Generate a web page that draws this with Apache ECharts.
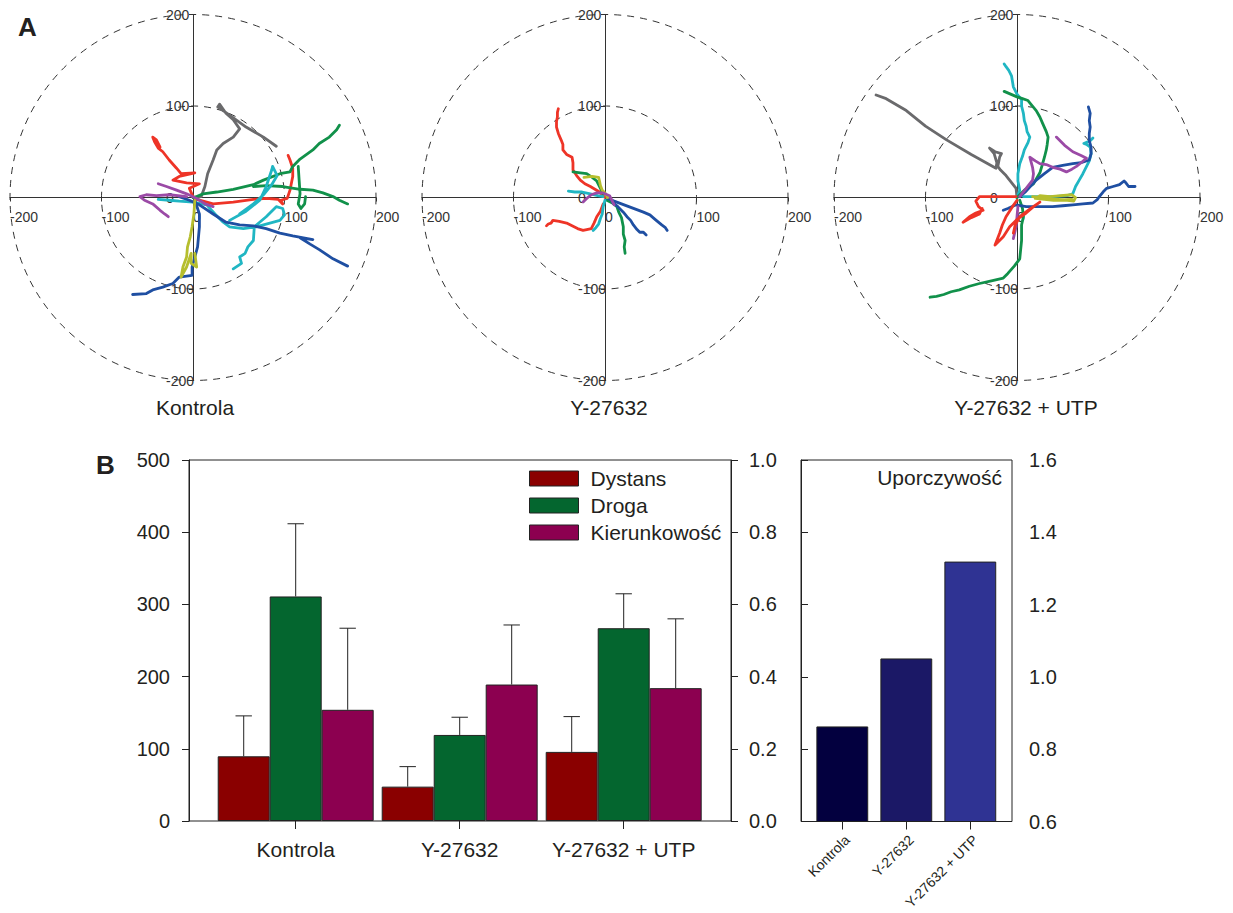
<!DOCTYPE html>
<html>
<head>
<meta charset="utf-8">
<script src="https://cdn.jsdelivr.net/npm/echarts@6/dist/echarts.min.js"></script>
<style>html,body{margin:0;padding:0;background:#fff}#c{width:1233px;height:913px}</style>
</head>
<body>
<div id="c"></div>
<script>
// ---------------- DATA ----------------
const groups = ['Kontrola', 'Y-27632', 'Y-27632 + UTP'];
const panelTitles = ['Kontrola', 'Y-27632', 'Y-27632 + UTP'];
const seriesNames = ['Dystans', 'Droga', 'Kierunkowość'];
const dystans = [89.6, 47.6, 95.7];
const dystansErr = [145.6, 75.3, 144.6];
const droga = [311, 119.2, 267];
const drogaErr = [411.7, 143.7, 314.7];
const kier = [0.308, 0.378, 0.368];
const kierErr = [0.534, 0.543, 0.56];
const persistence = [0.863, 1.051, 1.319];
const persistenceLabel = 'Uporczywość';

// trajectories (µm), panel A
const k_gray = [[0,0],[9,1],[13,12],[16,26],[22,41],[26,52],[33,59],[44,66],[51,75],[44,85],[36,92],[29,102],[27,99],[40,90],[58,77],[77,66],[91,56]];
const k_redA = [[0,1],[-4,10],[7,15],[-7,16],[-22,19],[-15,23],[2,27],[-13,26],[-18,32],[-26,41],[-33,50],[-38,54],[-42,61],[-44,66],[-40,63],[-36,55]];
const k_redB = [[4,-2],[22,-7],[44,-5],[66,-2],[80,-1],[93,-2],[98,-7],[96,-3],[103,-1],[106,8],[109,23],[109,32],[106,41],[104,46]];
const k_greenA = [[0,0],[4,1],[11,4],[26,6],[44,9],[66,14],[77,19],[95,26],[106,28],[109,34],[117,42],[131,52],[138,59],[149,66],[157,74],[160,79]];
const k_greenB = [[66,12],[80,13],[98,12],[117,9],[131,8],[142,5],[153,1],[160,-3],[169,-7]];
const k_greenC = [[115,34],[116,19],[117,4],[115,-7],[118,-12],[122,-7],[123,1]];
const k_cyanA = [[-38,-2],[-26,-3],[-15,-4],[0,-5],[15,-8],[24,-18],[33,-27],[40,-32],[55,-34],[69,-32],[84,-28],[95,-25],[100,-19],[98,-12],[91,-10],[80,-21],[67,-32],[66,-47],[60,-54],[57,-61],[51,-65],[53,-72],[44,-78]];
const k_cyanB = [[40,-25],[58,-15],[73,-3],[80,12],[86,30],[87,34],[92,24],[86,14],[77,3],[66,-7],[51,-18]];
const k_blueA = [[-15,1],[-4,-3],[7,-8],[22,-18],[36,-27],[51,-30],[66,-31],[80,-34],[95,-39],[109,-42],[131,-46],[117,-44],[128,-51],[138,-57],[153,-67],[169,-75]];
const k_blueB = [[2,-3],[7,-18],[7,-32],[5,-54],[2,-65],[-1,-76],[-1,-85],[-15,-87],[-22,-94],[-33,-98],[-44,-101],[-51,-105],[-66,-106]];
const k_olive = [[2,-3],[1,-18],[-1,-32],[-3,-43],[-6,-54],[-7,-65],[-11,-76],[-13,-87],[-7,-76],[-2,-61],[-2,-72],[4,-76],[2,-61]];
const k_purpleA = [[22,-10],[13,-7],[4,-1],[-7,4],[-18,8],[-29,12],[-38,15]];
const k_purpleB = [[-7,1],[-26,3],[-40,2],[-51,3],[-58,1],[-53,-3],[-44,-7],[-36,-14],[-31,-18],[-27,-21]];

const y_redA = [[0,0],[-6,6],[-16,12],[-22,15],[-27,19],[-31,24],[-35,30],[-35,38],[-36,44],[-42,47],[-46,52],[-46,58],[-48,63],[-51,70],[-53,77],[-53,83],[-52,88],[-52,93],[-51,97]];
const y_redB = [[-2,-7],[-5,-15],[-9,-21],[-12,-28],[-15,-34],[-20,-35],[-24,-36],[-30,-34],[-36,-31],[-42,-28],[-50,-26],[-57,-25],[-59,-28],[-62,-29],[-64,-31]];
const y_greenA = [[2,-3],[8,-6],[13,-10],[15,-16],[18,-22],[20,-32],[20,-40],[22,-47],[21,-54],[22,-61]];
const y_greenB = [[-2,4],[-5,10],[-9,18],[-14,22],[-20,26],[-27,27],[-35,28]];
const y_blueA = [[3,-1],[10,-4],[18,-7],[26,-10],[34,-13],[42,-16],[49,-19],[56,-25],[62,-30],[66,-33],[68,-36]];
const y_blueB = [[8,-5],[14,-10],[20,-16],[24,-21],[28,-25],[31,-30],[35,-35],[38,-38],[42,-38],[45,-41]];
const y_olive = [[3,0],[0,5],[-3,8],[-5,13],[-6,18],[-7,22],[-14,23],[-23,22]];
const y_cyanA = [[-2,1],[-8,2],[-16,4],[-25,6],[-33,6],[-40,7]];
const y_cyanB = [[0,-3],[-2,-10],[-3,-18],[-5,-23],[-7,-29],[-10,-33],[-13,-36]];
const y_purple = [[10,-8],[8,-4],[5,2],[-2,5],[-9,5],[-15,3],[-20,-1],[-24,-5]];

const u_gray = [[0,0],[-1,10],[-12,24],[-18,30],[-21,34],[-19,44],[-17,48],[-24,50],[-30,54],[-25,48],[-22,38],[-23,32],[-50,47],[-77,63],[-100,78],[-121,95],[-143,108],[-154,112]];
const u_cyanA = [[0,0],[3,8],[1,18],[1,26],[3,37],[6,45],[8,52],[12,60],[14,66],[11,72],[10,78],[8,84],[7,92],[5,100],[5,107],[0,113],[-4,121],[-5,127],[-6,133],[-9,139],[-12,143],[-14,146]];
const u_cyanB = [[7,1],[20,1],[39,1],[55,2],[61,4],[64,12],[68,19],[72,26],[76,34],[79,40],[81,48],[80,55],[76,58],[73,59],[80,62],[83,65]];
const u_greenA = [[0,0],[8,8],[18,15],[22,22],[25,27],[28,37],[30,44],[32,52],[33,58],[34,66],[32,72],[28,81],[25,88],[21,95],[16,101],[12,106],[6,108],[0,110],[-7,113],[-14,116]];
const u_greenB = [[3,-3],[6,-12],[7,-21],[5,-30],[5,-40],[5,-47],[4,-57],[3,-67],[-3,-75],[-10,-83],[-15,-88],[-28,-91],[-41,-94],[-52,-97],[-63,-101],[-72,-103],[-80,-106],[-88,-108],[-95,-109]];
const u_blueA = [[-15,-14],[-10,-12],[-1,-8],[10,-10],[21,-10],[30,-10],[39,-10],[50,-9],[61,-8],[72,-7],[83,-6],[88,-2],[90,1],[94,6],[98,10],[105,12],[112,14],[117,18],[119,16],[122,12],[129,12]];
const u_blueB = [[3,1],[10,7],[21,19],[30,26],[39,33],[50,35],[61,37],[70,38],[79,41],[81,48],[81,55],[79,62],[79,70],[80,77],[79,84],[80,92],[78,99]];
const u_purpleA = [[3,1],[10,10],[17,19],[18,26],[17,33],[14,44],[20,40],[25,37],[32,36],[39,33],[47,31],[54,28],[60,31],[65,34],[70,38],[76,43],[70,46],[61,50],[52,57],[43,66]];
const u_purpleB = [[1,-10],[0,-21],[-1,-32],[-4,-45]];
const u_olive = [[17,1],[25,0],[35,-1],[45,-2],[55,-3],[62,-4],[64,0],[60,3],[48,2],[36,1],[25,2],[20,-1],[40,-3],[60,-2]];
const u_redA = [[-1,1],[-12,1],[-25,1],[-41,1],[-45,-4],[-42,-10],[-37,-14],[-45,-17],[-52,-21],[-59,-27],[-50,-22],[-41,-18],[-38,-12]];
const u_redB = [[0,-3],[-5,-10],[-12,-21],[-16,-30],[-19,-39],[-24,-52],[-15,-43],[-8,-32],[0,-24],[10,-17],[18,-10],[25,-5],[15,-12],[3,-21],[-2,-30],[-4,-39]];

// ---------------- STYLE / LAYOUT ----------------
const C = {
  red: '#ee3427', green: '#11914a', gray: '#6a6a6c', cyan: '#20b6c3',
  blue: '#1f4fa2', olive: '#b6be2e', purple: '#9b4aa6'
};
const panels = [
  [[k_gray,'gray'],[k_redA,'red'],[k_redB,'red'],[k_greenA,'green'],[k_greenB,'green'],[k_greenC,'green'],[k_cyanA,'cyan'],[k_cyanB,'cyan'],[k_blueA,'blue'],[k_blueB,'blue'],[k_olive,'olive'],[k_purpleA,'purple'],[k_purpleB,'purple']],
  [[y_redA,'red'],[y_redB,'red'],[y_greenA,'green'],[y_greenB,'green'],[y_blueA,'blue'],[y_blueB,'blue'],[y_olive,'olive'],[y_cyanA,'cyan'],[y_cyanB,'cyan'],[y_purple,'purple']],
  [[u_gray,'gray'],[u_cyanA,'cyan'],[u_cyanB,'cyan'],[u_greenA,'green'],[u_greenB,'green'],[u_blueA,'blue'],[u_blueB,'blue'],[u_purpleA,'purple'],[u_purpleB,'purple'],[u_olive,'olive'],[u_redA,'red'],[u_redB,'red']]
];
const barColors = ['#8a0000', '#04662f', '#8c0050'];
const persColors = ['#03003f', '#1b1866', '#2f3393'];
const FONT = 'Liberation Sans, Arial, Helvetica, sans-serif';
const INK = '#231f20';

const panelLeft = [10, 422, 834];
const panelTop = 14.5;
const panelSize = 366;
const titleX = [195, 609, 1026];

const grid = [], xAxis = [], yAxis = [], polar = [], radiusAxis = [], angleAxis = [], series = [], title = [];

panelLeft.forEach((L, p) => {
  grid.push({left: L, top: panelTop, width: panelSize, height: panelSize, outerBoundsMode: 'none', containLabel: false});
  const axCommon = {
    type: 'value', gridIndex: p, min: -200, max: 200, interval: 100,
    offset: -panelSize / 2,
    splitLine: {show: false},
    axisLine: {onZero: false, lineStyle: {color: '#333', width: 1}},
    axisTick: {show: true, length: 4, lineStyle: {color: '#333'}}
  };
  xAxis.push(Object.assign({}, axCommon, {
    position: 'bottom',
    axisLabel: {fontSize: 14, color: '#333', fontFamily: FONT, align: 'left', margin: 12}
  }));
  yAxis.push(Object.assign({}, axCommon, {
    position: 'left',
    axisLabel: {fontSize: 14, color: '#333', fontFamily: FONT, align: 'left', margin: 27}
  }));
  polar.push({center: [L + panelSize / 2, panelTop + panelSize / 2], radius: panelSize / 2});
  radiusAxis.push({
    polarIndex: p, type: 'value', min: 0, max: 200, interval: 100,
    axisLine: {show: false}, axisTick: {show: false}, axisLabel: {show: false},
    splitLine: {show: true, lineStyle: {color: '#333', width: 1, type: [7, 6]}}
  });
  angleAxis.push({
    polarIndex: p, type: 'value', min: 0, max: 360,
    axisLine: {show: false}, axisTick: {show: false}, axisLabel: {show: false},
    splitLine: {show: false}
  });
  panels[p].forEach(([tr, col]) => {
    series.push({
      type: 'line', xAxisIndex: p, yAxisIndex: p, data: tr,
      showSymbol: false, symbol: 'none', silent: true, clip: false, z: 3,
      lineStyle: {color: C[col], width: 2.8, join: 'round', cap: 'round'}
    });
  });
  title.push({
    text: panelTitles[p], left: titleX[p], top: 397, textAlign: 'center', padding: 0,
    textStyle: {fontSize: 21, fontWeight: 'normal', color: INK, fontFamily: FONT}
  });
});

// ---------- Panel B main chart ----------
const gb = {outerBoundsMode: 'none', containLabel: false};
grid.push(Object.assign({left: 189, top: 460, width: 542, height: 361, show: true, borderColor: '#222', borderWidth: 1, backgroundColor: 'transparent'}, gb));
grid.push(Object.assign({left: 213.7, top: 460, width: 492, height: 361}, gb));
grid.push(Object.assign({left: 801, top: 460, width: 211, height: 361.5, show: true, borderColor: '#222', borderWidth: 1, backgroundColor: 'transparent'}, gb));
grid.push(Object.assign({left: 810.3, top: 460, width: 192, height: 361.5}, gb));

xAxis.push({type: 'value', gridIndex: 3, show: false, min: 0, max: 1});
xAxis.push({
  type: 'category', gridIndex: 4, data: groups,
  axisLine: {show: false},
  axisTick: {show: true, alignWithLabel: true, length: 8, lineStyle: {color: '#222'}},
  axisLabel: {fontSize: 21, color: INK, fontFamily: FONT, margin: 18, interval: 0}
});
xAxis.push({type: 'value', gridIndex: 5, show: false, min: 0, max: 1});
xAxis.push({
  type: 'category', gridIndex: 6, data: groups,
  axisLine: {show: false},
  axisTick: {show: true, alignWithLabel: true, length: 8, lineStyle: {color: '#222'}},
  axisLabel: {fontSize: 14, color: INK, fontFamily: FONT, margin: 11, rotate: 45, interval: 0, verticalAlign: 'top'}
});

yAxis.push({
  type: 'value', gridIndex: 3, position: 'left', min: 0, max: 500, interval: 100,
  axisLine: {show: true, lineStyle: {color: '#222'}},
  axisTick: {show: true, length: 7, lineStyle: {color: '#222'}},
  axisLabel: {fontSize: 20, color: INK, fontFamily: FONT, margin: 19},
  splitLine: {show: false}
});
yAxis.push({
  type: 'value', gridIndex: 3, position: 'right', min: 0, max: 1, interval: 0.2,
  axisLine: {show: true, lineStyle: {color: '#222'}},
  axisTick: {show: true, length: 7, lineStyle: {color: '#222'}},
  axisLabel: {fontSize: 20, color: INK, fontFamily: FONT, margin: 18, formatter: v => v.toFixed(1)},
  splitLine: {show: false}
});
yAxis.push({type: 'value', gridIndex: 4, min: 0, max: 500, show: false, splitLine: {show: false}});
yAxis.push({type: 'value', gridIndex: 4, min: 0, max: 1, show: false, splitLine: {show: false}});
yAxis.push({
  type: 'value', gridIndex: 5, position: 'right', min: 0.6, max: 1.6, interval: 0.2,
  axisLine: {show: true, lineStyle: {color: '#222'}},
  axisTick: {show: true, length: 7, lineStyle: {color: '#222'}},
  axisLabel: {fontSize: 20, color: INK, fontFamily: FONT, margin: 17, formatter: v => v.toFixed(1)},
  splitLine: {show: false}
});
yAxis.push({type: 'value', gridIndex: 6, min: 0.6, max: 1.6, show: false, splitLine: {show: false}});

const barVals = [dystans, droga, kier];
const barErrs = [dystansErr, drogaErr, kierErr];
const barY = [5, 5, 6];
const BAR_FRAC = 0.317;
seriesNames.forEach((name, s) => {
  series.push({
    name: name, type: 'bar', xAxisIndex: 4, yAxisIndex: barY[s],
    data: barVals[s], barWidth: (BAR_FRAC * 100) + '%', barGap: '0%',
    itemStyle: {color: barColors[s], borderColor: '#222', borderWidth: 1},
    silent: true, z: 2
  });
});
seriesNames.forEach((name, s) => {
  const k = s - 1;
  series.push({
    type: 'custom', xAxisIndex: 4, yAxisIndex: barY[s], silent: true, z: 4,
    data: groups.map((g, i) => [i, barVals[s][i], barErrs[s][i]]),
    encode: {x: 0, y: [1, 2]},
    renderItem: function (params, api) {
      const i = api.value(0);
      const base = api.coord([i, api.value(1)]);
      const top = api.coord([i, api.value(2)]);
      const band = api.size([1, 0])[0];
      const x = base[0] + k * band * BAR_FRAC;
      const cap = band * 0.1;
      const st = {stroke: '#222', lineWidth: 1};
      return {type: 'group', children: [
        {type: 'line', shape: {x1: x, y1: base[1], x2: x, y2: top[1]}, style: st},
        {type: 'line', shape: {x1: x - cap / 2, y1: top[1], x2: x + cap / 2, y2: top[1]}, style: st}
      ]};
    }
  });
});
series.push({
  name: persistenceLabel, type: 'bar', xAxisIndex: 6, yAxisIndex: 8,
  data: persistence.map((v, i) => ({value: v, itemStyle: {color: persColors[i]}})),
  barWidth: '81%', itemStyle: {borderColor: '#222', borderWidth: 1}, silent: true
});

title.push({text: 'A', left: 18, top: 14, padding: 0, textStyle: {fontSize: 26, fontWeight: 'bold', color: INK, fontFamily: FONT}});
title.push({text: 'B', left: 96, top: 452, padding: 0, textStyle: {fontSize: 26, fontWeight: 'bold', color: INK, fontFamily: FONT}});
title.push({text: persistenceLabel, right: 231, top: 467, padding: 0, textStyle: {fontSize: 21, fontWeight: 'normal', color: INK, fontFamily: FONT}});

const chart = echarts.init(document.getElementById('c'), null, {renderer: 'svg'});
chart.setOption({
  animation: false,
  backgroundColor: '#fff',
  textStyle: {fontFamily: FONT},
  title: title,
  legend: {
    data: seriesNames, orient: 'vertical', left: 529, top: 468, padding: 0,
    itemWidth: 49, itemHeight: 15, itemGap: 6, icon: 'rect',
    itemStyle: {borderColor: '#222', borderWidth: 1},
    textStyle: {fontSize: 21, color: INK, fontFamily: FONT, padding: [0, 0, 0, 7]},
    selectedMode: false
  },
  grid: grid, xAxis: xAxis, yAxis: yAxis,
  polar: polar, radiusAxis: radiusAxis, angleAxis: angleAxis,
  series: series
});
</script>
</body>
</html>
